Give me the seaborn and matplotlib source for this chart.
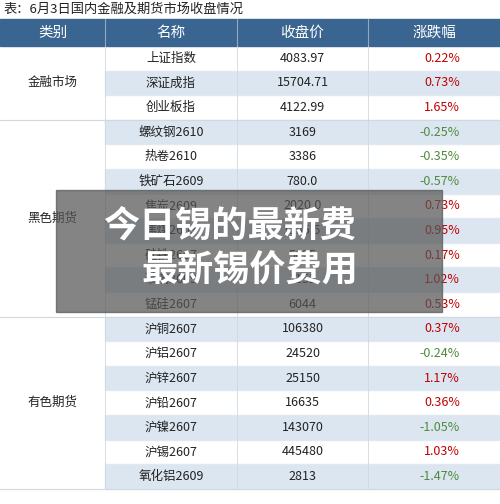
import matplotlib
matplotlib.use("Agg")
import matplotlib.pyplot as plt
import seaborn as sns
from matplotlib.patches import Rectangle

sns.set_theme(style="white")
plt.rcParams['font.family'] = ['Noto Sans CJK SC', 'DejaVu Sans']

title = "表：6月3日国内金融及期货市场收盘情况"
headers = ["类别", "名称", "收盘价", "涨跌幅"]
groups = [("金融市场", 3), ("黑色期货", 8), ("有色期货", 7)]
names = ["上证指数", "深证成指", "创业板指", "螺纹钢2610", "热卷2610", "铁矿石2609",
         "焦炭2609", "焦煤2609", "硅铁2607", "玻璃2609", "锰硅2607",
         "沪铜2607", "沪铝2607", "沪锌2607", "沪铅2607", "沪镍2607", "沪锡2607", "氧化铝2609"]
prices = ["4083.97", "15704.71", "4122.99", "3169", "3386", "780.0",
          "2020.0", "1185.5", "5625", "1152", "6044",
          "106380", "24520", "25150", "16635", "143070", "445480", "2813"]
changes = [0.22, 0.73, 1.65, -0.25, -0.35, -0.57,
           0.73, 0.95, 0.17, 1.02, 0.53,
           0.37, -0.24, 1.17, 0.36, -1.05, 1.03, -1.47]

W, H = 500, 504
fig = plt.figure(figsize=(W/100, H/100), dpi=100)
ax = fig.add_axes([0, 0, 1, 1])
ax.set_xlim(0, W); ax.set_ylim(H, 0); ax.axis("off")

cols = [0, 105, 237, 368, 500]
top, hh, rh = 19, 27, 24.6
ax.text(3, 9, title, fontsize=9.5, va="center", ha="left", color="#222")
ax.add_patch(Rectangle((0, top), W, hh, color="#3a6591"))
for i, h in enumerate(headers):
    ax.text((cols[i]+cols[i+1])/2, top+hh/2, h, color="white", fontsize=10.5, ha="center", va="center")
    if i:
        ax.plot([cols[i]]*2, [top, top+hh], color="#8fa8c4", lw=0.8)

y0 = top + hh
for r, (n, p, c) in enumerate(zip(names, prices, changes)):
    y = y0 + r*rh
    if r % 2 == 1:
        ax.add_patch(Rectangle((cols[1], y), W-cols[1], rh, color="#dce6f1"))
    ax.plot([cols[1], W], [y+rh]*2, color="#e4e9ef", lw=0.6)
    yc = y + rh/2
    ax.text((cols[1]+cols[2])/2, yc, n, fontsize=9, ha="center", va="center", color="#222")
    ax.text((cols[2]+cols[3])/2, yc, p, fontsize=9, ha="center", va="center", color="#222")
    ax.text(cols[4]-40, yc, f"{c:.2f}%", fontsize=9, ha="right", va="center",
            color="#c00000" if c > 0 else "#4e8a3e")
for x in cols[1:4]:
    ax.plot([x, x], [y0, y0+len(names)*rh], color="#d0d8e2", lw=0.6)

k = 0
for g, n in groups:
    ya, yb = y0 + k*rh, y0 + (k+n)*rh
    ax.text((cols[0]+cols[1])/2, (ya+yb)/2, g, fontsize=9, ha="center", va="center", color="#222")
    ax.plot([0, W], [yb, yb], color="#d0d8e2", lw=0.8)
    k += n

ax.add_patch(Rectangle((56, 190), 386, 122, color="#555555", alpha=0.72, zorder=5))
ax.text(230, 226, "今日锡的最新费", fontsize=26, fontweight="bold", color="white",
        ha="center", va="center", zorder=6)
ax.text(250, 271, "最新锡价费用", fontsize=26, fontweight="bold", color="white",
        ha="center", va="center", zorder=6)

fig.savefig("out.png", dpi=100)
